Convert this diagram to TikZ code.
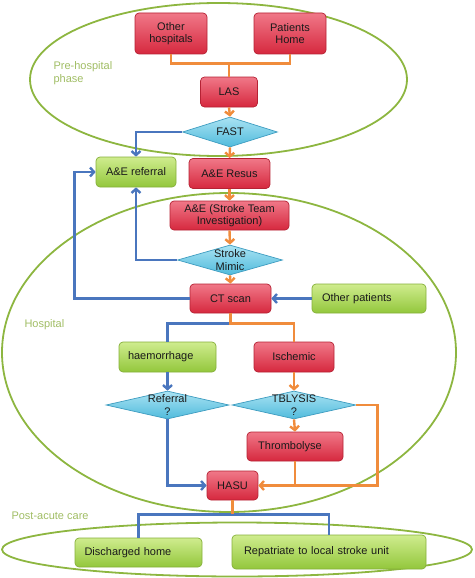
\documentclass[tikz,border=0pt]{standalone}
\usepackage{fontspec}
\setmainfont{Liberation Sans}
\usetikzlibrary{shapes.geometric,arrows.meta}
\definecolor{redtop}{HTML}{F07888}
\definecolor{redbot}{HTML}{D6283E}
\definecolor{redline}{HTML}{B52234}
\definecolor{greentop}{HTML}{CFEC8E}
\definecolor{greenbot}{HTML}{93C73C}
\definecolor{greenline}{HTML}{86B03A}
\definecolor{cyantop}{HTML}{AAE3F3}
\definecolor{cyanbot}{HTML}{50BBDC}
\definecolor{cyanline}{HTML}{3E9CC0}
\definecolor{arrorange}{HTML}{F08C3C}
\definecolor{arrblue}{HTML}{4A76BE}
\definecolor{zone}{HTML}{8DB640}
\definecolor{zonetext}{HTML}{A0BD64}
\definecolor{boxtext}{HTML}{1A1A1A}

\begin{document}
\begin{tikzpicture}[x=1pt,y=1pt]
\tikzstyle{every node}+=[font=\fontsize{11}{12.5}\selectfont, align=center, text=boxtext]
\tikzstyle{every label}+=[align=center, text=boxtext]
\tikzstyle{redbox}=[rectangle, rounded corners=4pt, top color=redtop, bottom color=redbot, draw=redline, line width=0.7pt, minimum height=30pt]
\tikzstyle{greenbox}=[rectangle, rounded corners=4pt, top color=greentop, bottom color=greenbot, draw=greenline, line width=0.7pt, minimum height=30pt]
\tikzstyle{decision}=[diamond, inner sep=0pt, top color=cyantop, bottom color=cyanbot, draw=cyanline, line width=0.7pt, minimum height=30pt]
\tikzstyle{orangeline}=[draw=arrorange, line width=2.4pt]
\tikzstyle{blueline}=[draw=arrblue, line width=2.4pt]
\tikzstyle{zonelabel}=[text=zonetext, align=left, anchor=west]
\tikzset{>={Straight Barb[length=4pt,width=9pt]}}
\useasboundingbox (0,0) rectangle (474,-578);

% phases
\draw [zone, line width=1.8pt] (218.5,-79.5) ellipse (188.5 and 76.5);
\draw [zone, line width=1.8pt] (229,-352.5) ellipse (227 and 159.5);
\draw [zone, line width=1.8pt] (237,-549.5) ellipse (235 and 27);
\node [zonelabel] (prelbl) at (50,-73) {Pre-hospital\\phase};
\node [zonelabel] (hosplbl) at (21,-325) {Hospital};
\node [zonelabel] (postlbl) at (8,-516) {Post-acute care};

% pre-hospital
\node [redbox, minimum width=72pt, minimum height=41pt, label={center:Other\\hospitals}] (oh) at (171,-33.5) {};
\node [redbox, minimum width=72pt, minimum height=41pt, label={center:Patients\\Home}] (ph) at (290,-33.5) {};
\node [redbox, minimum width=57pt, label={center:LAS}] (las) at (229,-92) {};
\node [decision, minimum width=95pt, label={center:FAST}] (fast) at (230,-132) {};
\node [greenbox, minimum width=80pt] (aer) at (136,-172) {A\&E referral};
\node [redbox, minimum width=81pt, label={center:A\&E Resus}] (resus) at (229.5,-173.5) {};

% hospital
\node [redbox, minimum width=119pt, minimum height=29pt, label={center:A\&E (Stroke Team\\Investigation)}] (team) at (229.5,-215.5) {};
\node [decision, minimum width=105pt, label={center:Stroke\\Mimic}] (mimic) at (230,-260) {};
\node [redbox, minimum width=81pt, minimum height=29pt, label={center:CT scan}] (ct) at (230.5,-298.5) {};
\node [greenbox, minimum width=114pt, minimum height=29pt, text width=94pt, align=left] (other) at (369,-298.5) {Other patients};
\node [greenbox, minimum width=97pt, text width=79pt, align=left] (haem) at (167.5,-357) {haemorrhage};
\node [redbox, minimum width=80pt, label={center:Ischemic}] (isch) at (294,-357) {};
\node [decision, minimum width=123pt, minimum height=28pt, label={center:Referral\\?}] (ref) at (167.5,-405) {};
\node [decision, minimum width=124pt, minimum height=28pt, label={center:TBLYSIS\\?}] (tbl) at (294,-405) {};
\node [redbox, minimum width=96pt, minimum height=29pt, label={[xshift=-5pt]center:Thrombolyse}] (thr) at (295,-446.5) {};
\node [redbox, minimum width=51pt, minimum height=29pt, label={center:HASU}] (hasu) at (232.5,-485.5) {};

% post-acute
\node [greenbox, minimum width=127pt, minimum height=29pt, text width=108pt, align=left] (home) at (138.5,-552.5) {Discharged home};
\node [greenbox, minimum width=194pt, minimum height=34pt, text width=170pt, align=left] (local) at (329,-552) {Repatriate to local stroke unit};

% connectors
\draw [orangeline] (oh.south) -- ++(0,-9) -| (ph.south);
\draw [orangeline] (las.north) -- ++(0,14);
\draw [orangeline, ->] (las.south) -- (fast.north);
\draw [orangeline, ->] (fast.south) -- (resus.north);
\draw [orangeline, ->] (resus.south) -- (team.north);
\draw [orangeline, ->] (team.south) -- (mimic.north);
\draw [orangeline, ->] (mimic.south) -- (ct.north);
\draw [blueline, ->] (fast.west) -| (aer.north);
\draw [blueline, ->] (mimic.west) -| (aer.south);
\draw [blueline, ->] (ct.west) -- ++(-115,0) |- (aer.west);
\draw [blueline, ->] (other.west) -- (ct.east);
\draw [blueline] (ct.south) -- ++(0,-10) -| (haem.north);
\draw [orangeline] (ct.south) -- ++(0,-10) -| (isch.north);
\draw [blueline, ->] (haem.south) -- (ref.north);
\draw [orangeline, ->] (isch.south) -- (tbl.north);
\draw [orangeline, ->] (tbl.south) -- (thr.north);
\draw [orangeline, ->] (tbl.east) -- ++(21,0) |- (hasu.east);
\draw [orangeline] (thr.south) -- (thr.south |- hasu.east);
\draw [blueline, ->] (ref.south) |- (hasu.west);
\draw [blueline] (hasu.south) ++(0,-14) -| (home.north);
\draw [blueline] (hasu.south) ++(0,-14) -| (local.north);
\draw [orangeline] (hasu.south) -- ++(0,-14);
\end{tikzpicture}
\end{document}
